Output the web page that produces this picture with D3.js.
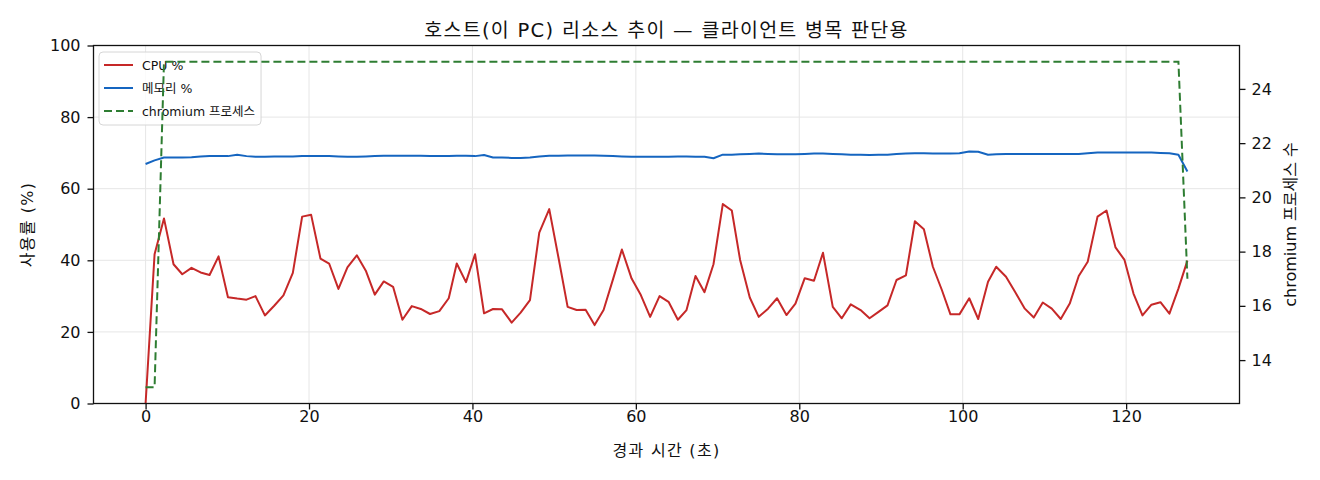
<!DOCTYPE html>
<html>
<head>
<meta charset="utf-8">
<script src="https://cdn.jsdelivr.net/npm/d3@7"></script>
<style>
  body { margin: 0; background: #fff; }
  text { font-family: "DejaVu Sans", "Noto Sans CJK KR", sans-serif; fill: #111; }
</style>
</head>
<body>
<svg id="chart" width="1320" height="480"></svg>
<script>
// elapsed seconds of each sample
var times = [0.0, 1.1, 2.25, 3.42, 4.49, 5.62, 6.73, 7.83, 8.93, 10.08,
    11.21, 12.35, 13.45, 14.6, 15.74, 16.87, 18.02, 19.16, 20.26, 21.4,
    22.46, 23.6, 24.7, 25.85, 26.95, 28.05, 29.15, 30.29, 31.43, 32.58,
    33.68, 34.81, 35.95, 37.1, 38.08, 39.21, 40.32, 41.42, 42.52, 43.62,
    44.8, 45.9, 47.04, 48.18, 49.4, 50.55, 51.65, 52.75, 53.85, 54.95,
    56.05, 57.19, 58.29, 59.48, 60.61, 61.75, 62.9, 64.0, 65.14, 66.2,
    67.3, 68.4, 69.5, 70.64, 71.74, 72.76, 73.94, 75.04, 76.18, 77.28,
    78.43, 79.53, 80.67, 81.8, 82.9, 84.1, 85.2, 86.3, 87.5, 88.6,
    89.7, 90.8, 91.9, 93.05, 94.15, 95.25, 96.35, 97.45, 98.5, 99.6,
    100.8, 101.9, 103.1, 104.1, 105.3, 106.4, 107.6, 108.7, 109.8, 110.9,
    112.0, 113.1, 114.2, 115.3, 116.5, 117.6, 118.7, 119.8, 120.9, 122.0,
    123.1, 124.2, 125.3, 126.4, 127.5];

var cpuPct = [0, 41.7, 51.7, 38.9, 36.1, 37.9, 36.6, 35.9, 41.1, 29.7,
    29.3, 29.0, 30.0, 24.6, 27.3, 30.2, 36.5, 52.2, 52.7, 40.5,
    39.1, 32.0, 38.0, 41.4, 37.1, 30.4, 34.1, 32.6, 23.4, 27.2,
    26.4, 25.0, 25.8, 29.4, 39.1, 33.9, 41.7, 25.2, 26.4, 26.3,
    22.6, 25.4, 28.9, 47.7, 54.3, 40.5, 27.0, 26.1, 26.2, 21.9,
    26.1, 34.6, 43.0, 34.9, 30.3, 24.2, 30.0, 28.4, 23.4, 26.1,
    35.6, 31.1, 38.9, 55.7, 53.9, 40.1, 29.6, 24.2, 26.5, 29.4,
    24.7, 27.9, 35.0, 34.3, 42.1, 27.0, 23.8, 27.7, 26.1, 23.8,
    25.6, 27.4, 34.5, 35.8, 50.9, 48.7, 38.2, 31.7, 24.9, 24.9,
    29.4, 23.6, 34.0, 38.2, 35.4, 31.2, 26.5, 24.0, 28.2, 26.5,
    23.6, 27.9, 35.6, 39.6, 52.2, 53.9, 43.6, 40.1, 30.7, 24.6,
    27.6, 28.3, 25.1, 32.1, 39.9];

var memPct = [66.9, 67.9, 68.7, 68.7, 68.7, 68.8, 69.0, 69.1, 69.1, 69.1,
    69.5, 69.1, 68.9, 68.9, 69.0, 69.0, 69.0, 69.1, 69.1, 69.1,
    69.1, 69.0, 68.9, 68.9, 69.0, 69.1, 69.2, 69.2, 69.2, 69.2,
    69.2, 69.1, 69.1, 69.1, 69.2, 69.2, 69.1, 69.4, 68.7, 68.7,
    68.6, 68.6, 68.7, 69.0, 69.2, 69.2, 69.3, 69.3, 69.3, 69.3,
    69.2, 69.1, 69.0, 68.9, 68.9, 68.9, 68.9, 68.9, 69.0, 69.0,
    68.9, 68.9, 68.5, 69.5, 69.5, 69.6, 69.7, 69.8, 69.7, 69.6,
    69.6, 69.6, 69.7, 69.8, 69.8, 69.7, 69.6, 69.5, 69.5, 69.4,
    69.5, 69.5, 69.7, 69.8, 69.9, 69.9, 69.8, 69.8, 69.8, 69.9,
    70.4, 70.3, 69.5, 69.6, 69.7, 69.7, 69.7, 69.7, 69.7, 69.7,
    69.7, 69.7, 69.7, 69.9, 70.1, 70.1, 70.1, 70.1, 70.1, 70.1,
    70.1, 70.0, 69.9, 69.5, 64.8];

var chromiumProcs = [13, 13, 25, 25, 25, 25, 25, 25, 25, 25,
    25, 25, 25, 25, 25, 25, 25, 25, 25, 25,
    25, 25, 25, 25, 25, 25, 25, 25, 25, 25,
    25, 25, 25, 25, 25, 25, 25, 25, 25, 25,
    25, 25, 25, 25, 25, 25, 25, 25, 25, 25,
    25, 25, 25, 25, 25, 25, 25, 25, 25, 25,
    25, 25, 25, 25, 25, 25, 25, 25, 25, 25,
    25, 25, 25, 25, 25, 25, 25, 25, 25, 25,
    25, 25, 25, 25, 25, 25, 25, 25, 25, 25,
    25, 25, 25, 25, 25, 25, 25, 25, 25, 25,
    25, 25, 25, 25, 25, 25, 25, 25, 25, 25,
    25, 25, 25, 25, 17];

var xTicks = [0, 20, 40, 60, 80, 100, 120];
var yLeftTicks = [0, 20, 40, 60, 80, 100];
var yRightTicks = [14, 16, 18, 20, 22, 24];
var seriesNames = ['CPU %', '메모리 %', 'chromium 프로세스'];

var colors = { cpu: '#c62828', mem: '#1565c0', proc: '#2e7d32' };

// plot area edges (window.top is read-only, so no plain "top")
var axLeft = 93.5, axRight = 1239.5, axTop = 45.5, axBottom = 403.5;
var svg = d3.select('#chart');

var tExt = d3.extent(times), tPad = (tExt[1] - tExt[0]) * 0.05;
var x = d3.scaleLinear().domain([tExt[0] - tPad, tExt[1] + tPad]).range([axLeft, axRight]);
var yL = d3.scaleLinear().domain([0, 100]).range([axBottom, axTop]);
var cExt = d3.extent(chromiumProcs), cPad = (cExt[1] - cExt[0]) * 0.05;
var yR = d3.scaleLinear().domain([cExt[0] - cPad, cExt[1] + cPad]).range([axBottom, axTop]);

// grid
var grid = svg.append('g').attr('stroke', '#e6e6e6').attr('stroke-width', 1);
grid.selectAll('.gx').data(xTicks).enter().append('line')
    .attr('x1', function(d) { return x(d); }).attr('x2', function(d) { return x(d); })
    .attr('y1', axTop).attr('y2', axBottom);
grid.selectAll('.gy').data(yLeftTicks).enter().append('line')
    .attr('y1', function(d) { return yL(d); }).attr('y2', function(d) { return yL(d); })
    .attr('x1', axLeft).attr('x2', axRight);

function styleAxis(g) {
    g.select('.domain').remove();
    g.selectAll('.tick line').attr('stroke', '#111').attr('stroke-width', 1.3);
    g.selectAll('.tick text').attr('font-size', 16).style('fill', '#111');
    g.attr('font-family', null).attr('font-size', null);
}

svg.append('g').attr('transform', 'translate(0,' + axBottom + ')')
    .call(d3.axisBottom(x).tickValues(xTicks).tickSize(6).tickPadding(1))
    .call(styleAxis);
svg.append('g').attr('transform', 'translate(' + axLeft + ',0)')
    .call(d3.axisLeft(yL).tickValues(yLeftTicks).tickSize(6).tickPadding(7))
    .call(styleAxis);
svg.append('g').attr('transform', 'translate(' + axRight + ',0)')
    .call(d3.axisRight(yR).tickValues(yRightTicks).tickSize(6).tickPadding(6))
    .call(styleAxis);

var lineL = function(vals) {
    return d3.line().x(function(d, i) { return x(times[i]); }).y(function(d) { return yL(d); })(vals);
};

svg.append('path').attr('d', lineL(cpuPct))
    .attr('fill', 'none').attr('stroke', colors.cpu).attr('stroke-width', 2).attr('stroke-linejoin', 'round');
svg.append('path').attr('d', lineL(memPct))
    .attr('fill', 'none').attr('stroke', colors.mem).attr('stroke-width', 2).attr('stroke-linejoin', 'round');

// legend (drawn before the twin axis line, which sits on top of it)
var legend = svg.append('g');
var legBox = legend.append('rect')
    .attr('x', 99).attr('y', 52).attr('height', 73).attr('rx', 4)
    .attr('fill', '#fff').attr('fill-opacity', 0.8)
    .attr('stroke', '#d6d6d6').attr('stroke-width', 1);
var legColors = [colors.cpu, colors.mem, colors.proc];
var maxW = 0;
seriesNames.forEach(function(name, i) {
    var cy = 65 + i * 23;
    legend.append('line')
        .attr('x1', 104).attr('x2', 133).attr('y1', cy).attr('y2', cy)
        .attr('stroke', legColors[i]).attr('stroke-width', 2)
        .attr('stroke-dasharray', i == 2 ? '8,4' : null);
    var t = legend.append('text').attr('x', 142).attr('y', cy + 4.5)
        .attr('font-size', 12.5).text(name);
    maxW = Math.max(maxW, t.node().getComputedTextLength());
});
legBox.attr('width', 142 - 99 + maxW + 6);

svg.append('path')
    .attr('d', d3.line().x(function(d, i) { return x(times[i]); }).y(function(d) { return yR(d); })(chromiumProcs))
    .attr('fill', 'none').attr('stroke', colors.proc).attr('stroke-width', 2)
    .attr('stroke-dasharray', '8,4');

// spines
svg.append('rect').attr('x', axLeft).attr('y', axTop)
    .attr('width', axRight - axLeft).attr('height', axBottom - axTop)
    .attr('fill', 'none').attr('stroke', '#111').attr('stroke-width', 1.3);

// titles
svg.append('text').attr('x', (axLeft + axRight) / 2).attr('y', 37)
    .attr('text-anchor', 'middle').attr('font-size', 19.5).attr('letter-spacing', 1.3)
    .text('호스트(이 PC) 리소스 추이 — 클라이언트 병목 판단용');
svg.append('text').attr('x', (axLeft + axRight) / 2).attr('y', 456)
    .attr('text-anchor', 'middle').attr('font-size', 16).attr('letter-spacing', 1.3)
    .text('경과 시간 (초)');
svg.append('text').attr('transform', 'translate(33,' + (axTop + axBottom) / 2 + ') rotate(-90)')
    .attr('text-anchor', 'middle').attr('font-size', 16).attr('letter-spacing', 1.2)
    .text('사용률 (%)');
svg.append('text').attr('transform', 'translate(1296,' + (axTop + axBottom) / 2 + ') rotate(-90)')
    .attr('text-anchor', 'middle').attr('font-size', 16)
    .text('chromium 프로세스 수');
</script>
</body>
</html>
